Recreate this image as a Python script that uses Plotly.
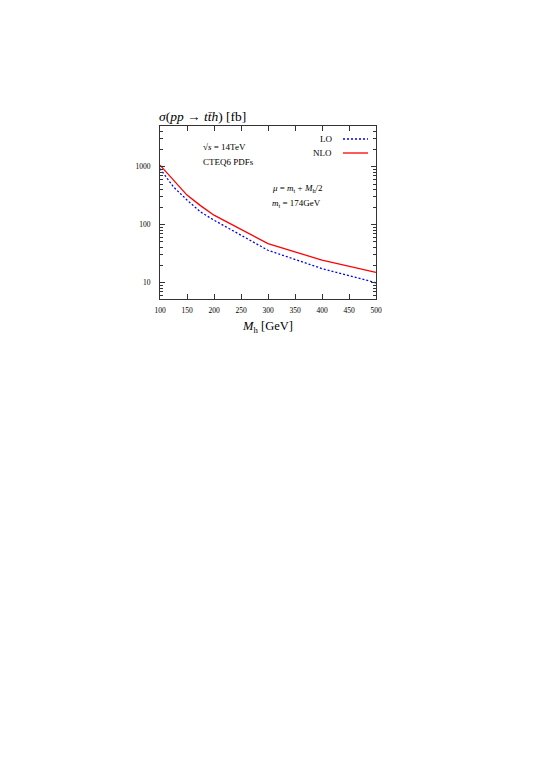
import plotly.graph_objects as go

# Higgs mass points (GeV) and cross sections (fb)
m_h = [100, 125, 150, 175, 200, 300, 400, 500]
sigma_lo = [920, 445, 265, 165, 119, 36, 17.4, 9.9]
sigma_nlo = [1060, 580, 322, 212, 145, 47, 24.3, 15.0]

x_ticks = [100, 150, 200, 250, 300, 350, 400, 450, 500]
y_ticks = [10, 100, 1000]
y_minor = [m * 10 ** e for e in range(0, 4) for m in range(2, 10)]

serif = "Liberation Serif"

fig = go.Figure()

fig.add_trace(go.Scatter(x=m_h, y=sigma_lo, mode="lines", name="LO",
                         line=dict(color="#0000ff", width=1.3, dash="2px,2px")))
fig.add_trace(go.Scatter(x=m_h, y=sigma_nlo, mode="lines", name="NLO",
                         line=dict(color="#ff0000", width=1.3)))

# page body adds 8px, so margins are 8px smaller than measured positions
fig.update_layout(
    width=538, height=760,
    margin=dict(l=152, r=170, t=118, b=469),
    paper_bgcolor="white", plot_bgcolor="white",
    showlegend=False,
    font=dict(family=serif, color="black", size=7),
    xaxis=dict(range=[100, 500], tickvals=x_ticks, ticks="inside", ticklen=5,
               mirror="allticks", showline=True, linecolor="#333", linewidth=1.2,
               tickcolor="#333", showgrid=False, zeroline=False,
               tickfont=dict(size=7.5), ticklabelstandoff=4,
               title=dict(text="<i>M</i><sub>h</sub> [GeV]", font=dict(size=12.5), standoff=7)),
    yaxis=dict(type="log", range=[0.716, 3.699], tickvals=y_ticks, ticks="inside", ticklen=5,
               mirror="allticks", showline=True, linecolor="#333", linewidth=1.2,
               tickcolor="#333", showgrid=False, zeroline=False,
               tickfont=dict(size=7.5), ticklabelstandoff=7,
               minor=dict(tickmode="array", tickvals=y_minor, ticks="inside", ticklen=3,
                          tickcolor="#333", showgrid=False)),
)

# title above the frame
fig.add_annotation(text="<i>σ</i>(<i>pp</i> → <i>t</i><i>t̄</i><i>h</i>) [fb]", xref="paper", yref="paper",
                   x=0, y=1, xanchor="left", yanchor="bottom", xshift=-3, yshift=0, showarrow=False,
                   font=dict(size=13.5))

# text labels inside the plot
notes = [
    ("√<i>s</i> = 14TeV", 0.19, 147),
    ("CTEQ6 PDFs", 0.19, 162),
    ("<i>μ</i> = <i>m</i><sub>t</sub> + <i>M</i><sub>h</sub>/2", 0.51, 188),
    ("<i>m</i><sub>t</sub> = 174GeV", 0.51, 203),
]
for txt, xp, ypx in notes:
    fig.add_annotation(text=txt, xref="paper", yref="paper", x=xp,
                       y=1 - (ypx - 126) / 173, xanchor="left", yanchor="middle",
                       showarrow=False, font=dict(size=9))

# legend drawn with text on the left and line sample on the right
legend = [("LO", 139, "#0000ff", "2px,2px"), ("NLO", 153, "#ff0000", "solid")]
for name, ypx, col, dash in legend:
    yp = 1 - (ypx - 126) / 173
    fig.add_annotation(text=name, xref="paper", yref="paper", x=(334 - 160) / 216, y=yp,
                       xanchor="right", yanchor="middle", showarrow=False, font=dict(size=9))
    fig.add_shape(type="line", xref="paper", yref="paper",
                  x0=(343 - 160) / 216, x1=(368 - 160) / 216, y0=yp, y1=yp,
                  line=dict(color=col, width=1.3, dash=dash))

fig.write_html("out.html")
